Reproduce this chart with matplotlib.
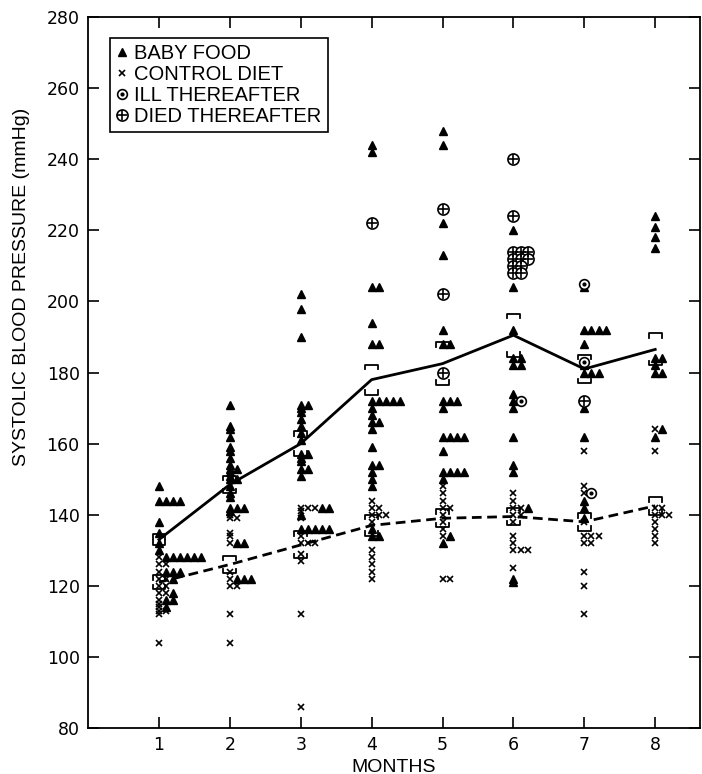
import matplotlib.pyplot as plt
from matplotlib.lines import Line2D
from collections import Counter

months = [1, 2, 3, 4, 5, 6, 7, 8]

# group means and standard errors (mmHg)
bf_mean = [133, 148.5, 160, 178, 182.5, 190.5, 181, 186.5]
bf_se = [1.5, 2.5, 3.5, 4.2, 6, 6, 4, 4.5]
ctrl_mean = [121, 126, 131.5, 137, 139, 139.5, 138, 142.5]
ctrl_se = [2, 2.5, 3.8, 3, 2.5, 2.5, 2.5, 2.5]

# individual readings, one list per month
baby_food = [
    [148, 144, 144, 144, 144, 138, 135, 132, 130, 128, 128, 128, 128, 128, 128,
     124, 124, 124, 122, 118, 116, 116, 114],
    [171, 165, 164, 162, 159, 158, 156, 154, 153, 153, 152, 151, 150, 150, 148,
     146, 145, 142, 142, 142, 141, 132, 132, 122, 122, 122],
    [202, 198, 190, 171, 171, 170, 169, 167, 165, 163, 161, 157, 157, 156, 155,
     153, 153, 151, 142, 142, 140, 136, 136, 136, 136, 136],
    [244, 242, 204, 204, 194, 188, 188, 172, 172, 172, 172, 172, 170, 168, 166,
     166, 164, 159, 154, 154, 152, 150, 148, 136, 134, 134],
    [248, 244, 222, 213, 192, 188, 188, 172, 172, 172, 170, 162, 162, 162, 162,
     158, 152, 152, 152, 152, 150, 134, 132],
    [220, 204, 192, 184, 184, 182, 182, 174, 172, 170, 162, 154, 152, 142, 122, 121],
    [204, 192, 192, 192, 192, 188, 182, 180, 180, 180, 170, 162, 144, 142, 139],
    [224, 221, 218, 215, 184, 184, 182, 180, 180, 164, 162],
]
control = [
    [128, 126, 126, 124, 122, 122, 120, 120, 118, 118, 116, 115, 114, 113, 113, 112, 104],
    [140, 139, 139, 135, 134, 132, 124, 122, 120, 120, 112, 104],
    [142, 142, 142, 141, 139, 134, 132, 132, 132, 129, 127, 112, 86],
    [144, 142, 142, 140, 140, 140, 138, 130, 128, 126, 124, 122],
    [148, 146, 144, 142, 142, 140, 138, 136, 134, 122, 122],
    [146, 144, 142, 142, 140, 140, 138, 134, 132, 130, 130, 130, 125],
    [158, 148, 146, 138, 134, 134, 134, 132, 132, 124, 120, 112],
    [164, 158, 142, 142, 140, 140, 140, 138, 136, 134, 132],
]
ill = [[], [], [], [], [], [172], [205, 183, 146], []]
died = [[], [], [], [222], [226, 202, 180],
        [240, 224, 214, 214, 214, 212, 212, 212, 210, 210, 208, 208], [172], []]

plt.rcParams['font.family'] = ['DejaVu Sans']

fig = plt.figure(figsize=(7.02, 7.74), dpi=100)
ax = fig.add_axes([0.1254, 0.0594, 0.8716, 0.9186])

styles = {
    'ctrl': [dict(marker='x', ms=4, mew=1.2, color='k')],
    'bf': [dict(marker='^', ms=6, color='k')],
    'ill': [dict(marker='o', ms=7, mfc='white', mec='k', mew=1.2),
            dict(marker='.', ms=4, color='k')],
    'died': [dict(marker='o', ms=8, mfc='white', mec='k', mew=1.2),
             dict(marker='+', ms=7, mew=1.2, color='k')],
}

step = 0.1
for i, m in enumerate(months):
    seen = Counter()
    for kind, vals in [('ctrl', control[i]), ('bf', baby_food[i]),
                       ('ill', ill[i]), ('died', died[i])]:
        xs = []
        for v in vals:
            xs.append(m + seen[v] * step)
            seen[v] += 1
        for st in styles[kind]:
            ax.plot(xs, vals, linestyle='none', zorder=3, **st)

ax.plot(months, bf_mean, color='k', lw=2, zorder=4)
ax.plot(months, ctrl_mean, color='k', lw=2, ls=(0, (3.5, 2)), zorder=4)

# standard error brackets
w, h = 0.09, 1.3
for mean, se in [(bf_mean, bf_se), (ctrl_mean, ctrl_se)]:
    for m, mu, s in zip(months, mean, se):
        up, lo = mu + s, mu - s
        ax.plot([m - w, m - w, m + w, m + w], [up - h, up, up, up - h],
                color='k', lw=1.3, zorder=4)
        ax.plot([m - w, m - w, m + w, m + w], [lo + h, lo, lo, lo + h],
                color='k', lw=1.3, zorder=4)

ax.set_xlim(0, 8.63)
ax.set_ylim(80, 280)
ax.set_xticks(months)
ax.set_yticks(range(80, 281, 20))
ax.tick_params(direction='in', top=True, right=True, length=8, width=1.2,
               labelsize=12.5, pad=6)
for sp in ax.spines.values():
    sp.set_linewidth(1.3)

ax.set_xlabel('MONTHS', fontsize=14, family='Liberation Sans', labelpad=3)
ax.set_ylabel('SYSTOLIC BLOOD PRESSURE (mmHg)', fontsize=14,
              family='Liberation Sans', labelpad=10)
ax.yaxis.set_label_coords(-0.095, 0.62)

handles = [
    Line2D([], [], linestyle='none', **styles['bf'][0]),
    Line2D([], [], linestyle='none', **styles['ctrl'][0]),
    tuple(Line2D([], [], linestyle='none', **st) for st in styles['ill']),
    tuple(Line2D([], [], linestyle='none', **st) for st in styles['died']),
]
labels = ['BABY FOOD', 'CONTROL DIET', 'ILL THEREAFTER', 'DIED THEREAFTER']
leg = ax.legend(handles, labels, loc='upper left', bbox_to_anchor=(0.036, 0.97),
                prop={'family': 'Liberation Sans', 'size': 14.5},
                handlelength=0.6, handletextpad=0.3, labelspacing=0.1,
                borderpad=0.3, borderaxespad=0, fancybox=False, framealpha=1,
                edgecolor='k')
leg.get_frame().set_linewidth(1.2)

fig.savefig('out.png', dpi=100)
